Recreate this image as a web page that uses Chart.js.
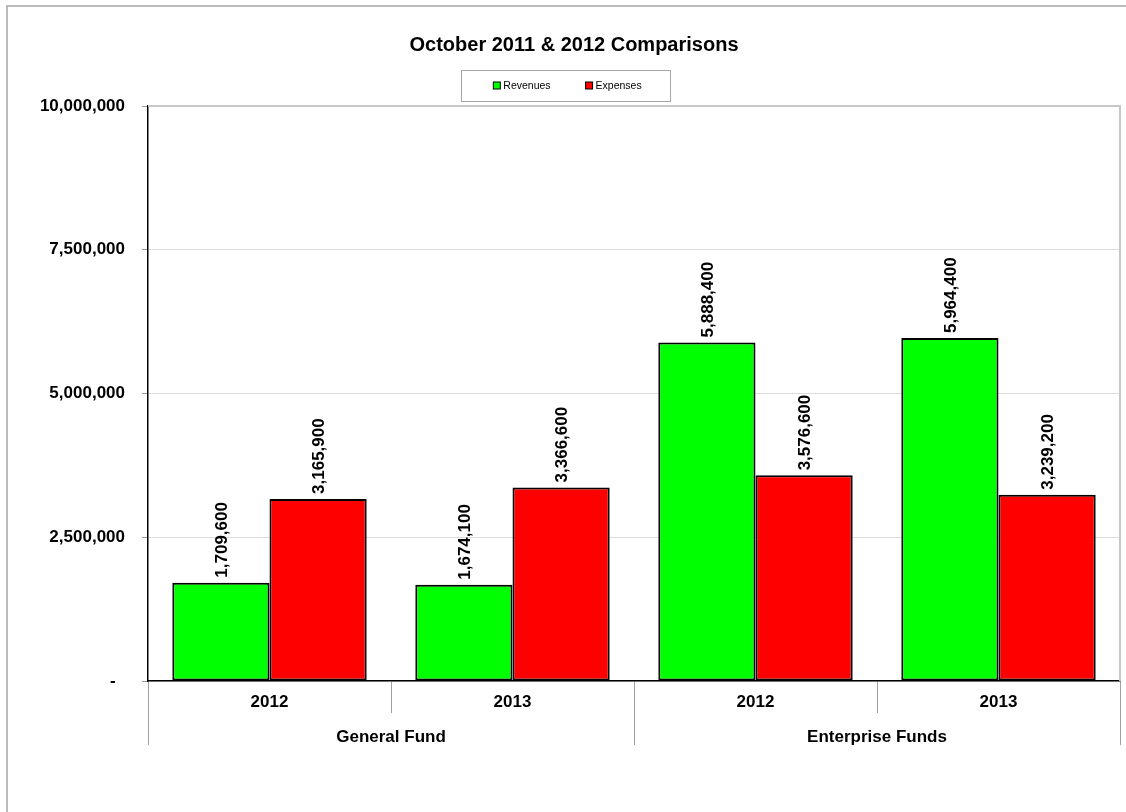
<!DOCTYPE html>
<html>
<head>
<meta charset="utf-8">
<script src="https://cdn.jsdelivr.net/npm/chart.js@4"></script>
<style>
  html, body { margin: 0; padding: 0; background: #fff; }
  #wrap { width: 1126px; height: 812px; position: relative; }
</style>
</head>
<body>
<div id="wrap"><canvas id="c" width="1126" height="812"></canvas></div>
<script>
const titleText = 'October 2011 & 2012 Comparisons';
const categories = ['2012', '2013', '2012', '2013'];
const groups = ['General Fund', 'Enterprise Funds'];
const seriesNames = ['Revenues', 'Expenses'];
const revenues = [1709600, 1674100, 5888400, 5964400];
const expenses = [3165900, 3366600, 3576600, 3239200];
const yTicks = [0, 2500000, 5000000, 7500000, 10000000];
const seriesColors = ['#00FF00', '#FF0000'];

const FONT = "'Liberation Sans', Arial, Helvetica, sans-serif";
Chart.defaults.font.family = FONT;
Chart.defaults.color = '#000';

const fmt = v => v === 0 ? '-  ' : Number(v).toLocaleString('en-US');

const framePlugin = {
  id: 'frame',
  beforeDraw(chart) {
    const ctx = chart.ctx;
    ctx.save();
    ctx.fillStyle = '#fff';
    ctx.fillRect(0, 0, chart.width, chart.height);
    ctx.strokeStyle = '#a6a6a6';
    ctx.lineWidth = 1.5;
    ctx.beginPath();
    ctx.moveTo(7, chart.height + 2);
    ctx.lineTo(7, 6);
    ctx.lineTo(chart.width + 2, 6);
    ctx.stroke();
    ctx.restore();
  },
  beforeDatasetsDraw(chart) {
    const ctx = chart.ctx, a = chart.chartArea;
    ctx.save();
    ctx.strokeStyle = '#c8c8c8';
    ctx.lineWidth = 2;
    ctx.beginPath();
    ctx.moveTo(a.left, a.top);
    ctx.lineTo(a.right, a.top);
    ctx.lineTo(a.right, a.bottom);
    ctx.stroke();
    ctx.restore();
  }
};

const dividerPlugin = {
  id: 'dividers',
  afterDraw(chart) {
    const ctx = chart.ctx;
    const xs = chart.scales.x;
    const n = categories.length;
    const perGroup = n / groups.length;
    const step = (xs.right - xs.left) / n;
    ctx.save();
    ctx.strokeStyle = '#a0a0a0';
    ctx.lineWidth = 1;
    for (let i = 0; i <= n; i++) {
      const x = Math.round(xs.left + i * step) + 0.5;
      const long = i % perGroup === 0;
      const yEnd = xs.top + (long ? 64 : 32);
      ctx.beginPath();
      ctx.moveTo(x, xs.top + 1);
      ctx.lineTo(x, yEnd);
      ctx.stroke();
    }
    ctx.restore();
  }
};

const valueLabelPlugin = {
  id: 'valueLabels',
  afterDatasetsDraw(chart) {
    const ctx = chart.ctx;
    ctx.save();
    ctx.font = 'bold 17px ' + FONT;
    ctx.fillStyle = '#000';
    ctx.textAlign = 'left';
    ctx.textBaseline = 'middle';
    chart.data.datasets.forEach((ds, di) => {
      const meta = chart.getDatasetMeta(di);
      meta.data.forEach((bar, i) => {
        ctx.save();
        ctx.translate(bar.x + 1, bar.y - 5);
        ctx.rotate(-Math.PI / 2);
        ctx.fillText(fmt(ds.data[i]), 0, 0);
        ctx.restore();
      });
    });
    ctx.restore();
  }
};

const boxLegendPlugin = {
  id: 'boxLegend',
  afterDraw(chart) {
    const ctx = chart.ctx;
    const a = chart.chartArea;
    const boxW = 209, boxH = 31;
    const cx = chart.width / 2 + 2.5;
    const bottom = a.top - 5;
    const top = bottom - boxH;
    const left = cx - boxW / 2;
    ctx.save();
    ctx.strokeStyle = '#a6a6a6';
    ctx.lineWidth = 1;
    ctx.strokeRect(Math.round(left) + 0.5, Math.round(top) + 0.5, boxW, boxH);
    ctx.font = '10.5px ' + FONT;
    ctx.textBaseline = 'middle';
    ctx.textAlign = 'left';
    const sq = 7, gapText = 3, gapItems = 35;
    const widths = seriesNames.map(t => ctx.measureText(t).width);
    const total = widths.reduce((s, w) => s + sq + gapText + w, 0) + gapItems * (seriesNames.length - 1);
    let x = cx - total / 2 + 2;
    const yc = top + boxH / 2;
    seriesNames.forEach((name, i) => {
      ctx.fillStyle = seriesColors[i];
      ctx.fillRect(x, yc - sq / 2, sq, sq);
      ctx.strokeStyle = '#000';
      ctx.lineWidth = 1;
      ctx.strokeRect(x, yc - sq / 2, sq, sq);
      ctx.fillStyle = '#000';
      ctx.fillText(name, x + sq + gapText, yc + 0.5);
      x += sq + gapText + widths[i] + gapItems;
    });
    ctx.restore();
  }
};

const tickFont = { family: FONT, size: 17, weight: 'bold' };

new Chart(document.getElementById('c'), {
  type: 'bar',
  data: {
    labels: categories,
    datasets: [
      { label: seriesNames[0], data: revenues, backgroundColor: seriesColors[0], borderColor: '#000', borderWidth: 2, borderSkipped: false, xAxisID: 'x' },
      { label: seriesNames[1], data: expenses, backgroundColor: seriesColors[1], borderColor: '#000', borderWidth: 2, borderSkipped: false, xAxisID: 'x' }
    ]
  },
  options: {
    responsive: false,
    animation: false,
    devicePixelRatio: 1,
    layout: { padding: { left: 28, right: 6, top: 0, bottom: 62.6 } },
    datasets: { bar: { categoryPercentage: 0.8, barPercentage: 1.0 } },
    plugins: {
      legend: { display: false },
      tooltip: { enabled: false },
      title: {
        display: true,
        text: titleText,
        color: '#000',
        font: { family: FONT, size: 20, weight: 'bold' },
        padding: { top: 33, bottom: 49 }
      }
    },
    scales: {
      x: {
        type: 'category',
        position: 'bottom',
        weight: 0,
        offset: true,
        grid: { display: false, drawTicks: false },
        border: { display: true, color: '#000', width: 1.5 },
        ticks: { font: tickFont, color: '#000', padding: 11.5, maxRotation: 0, autoSkip: false }
      },
      x2: {
        type: 'category',
        position: 'bottom',
        weight: 1,
        labels: groups,
        offset: true,
        grid: { display: false, drawTicks: false },
        border: { display: false },
        ticks: { font: tickFont, color: '#000', padding: 2.3, maxRotation: 0, autoSkip: false }
      },
      y: {
        min: 0,
        max: 10000000,
        afterBuildTicks: s => { s.ticks = yTicks.map(v => ({ value: v })); },
        afterFit: s => { s.width = 120; },
        ticks: { font: tickFont, color: '#000', padding: 17, callback: v => fmt(v) },
        grid: { color: '#dcdcdc', lineWidth: 1, tickLength: 6, tickColor: '#999' },
        border: { color: '#000', width: 1.5 }
      }
    }
  },
  plugins: [framePlugin, dividerPlugin, valueLabelPlugin, boxLegendPlugin]
});
</script>
</body>
</html>
